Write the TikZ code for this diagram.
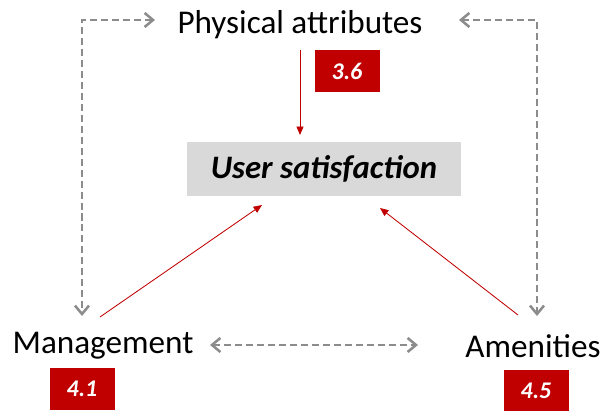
\documentclass[tikz,border=0pt]{standalone}
\usepackage{fontspec}
\setmainfont{Carlito}
\usetikzlibrary{positioning,arrows.meta}

\definecolor{scorered}{HTML}{C00000}
\definecolor{linkgray}{HTML}{8C8C8C}
\definecolor{boxgray}{HTML}{D9D9D9}

\begin{document}
\begin{tikzpicture}[
    x=0.025cm, y=-0.025cm,
    factor/.style={font=\fontsize{23.6}{28}\selectfont, inner sep=0pt},
    outcome/.style={fill=boxgray, minimum width=274*0.025cm,
                    minimum height=54*0.025cm,
                    font=\fontsize{23.3}{28}\selectfont\bfseries\itshape},
    score/.style={fill=scorered, text=white, minimum width=65*0.025cm,
                  minimum height=42*0.025cm,
                  font=\fontsize{17}{20}\selectfont\bfseries\itshape},
    effect/.style={-{Triangle[length=6pt,width=5pt]}, scorered, line width=0.6pt},
    link/.style={{Straight Barb[length=6pt,width=10pt]}-{Straight Barb[length=6pt,width=10pt]},
                 linkgray, line width=1.8pt, dash pattern=on 5pt off 2.8pt}
  ]
    \useasboundingbox (0,0) rectangle (607,411);

    % Outcome in the middle
    \node[outcome] (sat) at (324,169) {User satisfaction};

    % The three factors with their scores
    \node[factor] (phys) at (300,25) {Physical attributes};
    \node[score] (sphys) at (347,71) {3.6};
    \node[factor] (mgmt) at (103,346) {Management};
    \node[score] (smgmt) at (82,389) {4.1};
    \node[factor] (amen) at (533,346) {Amenities};
    \node[score] (samen) at (536,391) {4.5};

    % Anchor points for the links
    \coordinate (p0) at (300,50);
    \coordinate (p1) at (300,135);
    \coordinate (m0) at (100,317);
    \coordinate (m1) at (262,205);
    \coordinate (a0) at (518,315);
    \coordinate (a1) at (380,208);
    \coordinate (pl) at (155,20);
    \coordinate (pr) at (459,20);
    \coordinate (ml) at (82,316);
    \coordinate (ar) at (537,316);
    \coordinate (mr) at (210,345);
    \coordinate (al) at (418,345);

    % Effects on satisfaction
    \draw[effect] (p0) -- (p1);
    \draw[effect] (m0) -- (m1);
    \draw[effect] (a0) -- (a1);

    % Links between the factors
    \draw[link] (pl) -| (ml);
    \draw[link] (pr) -| (ar);
    \draw[link] (mr) -- (al);
\end{tikzpicture}
\end{document}
